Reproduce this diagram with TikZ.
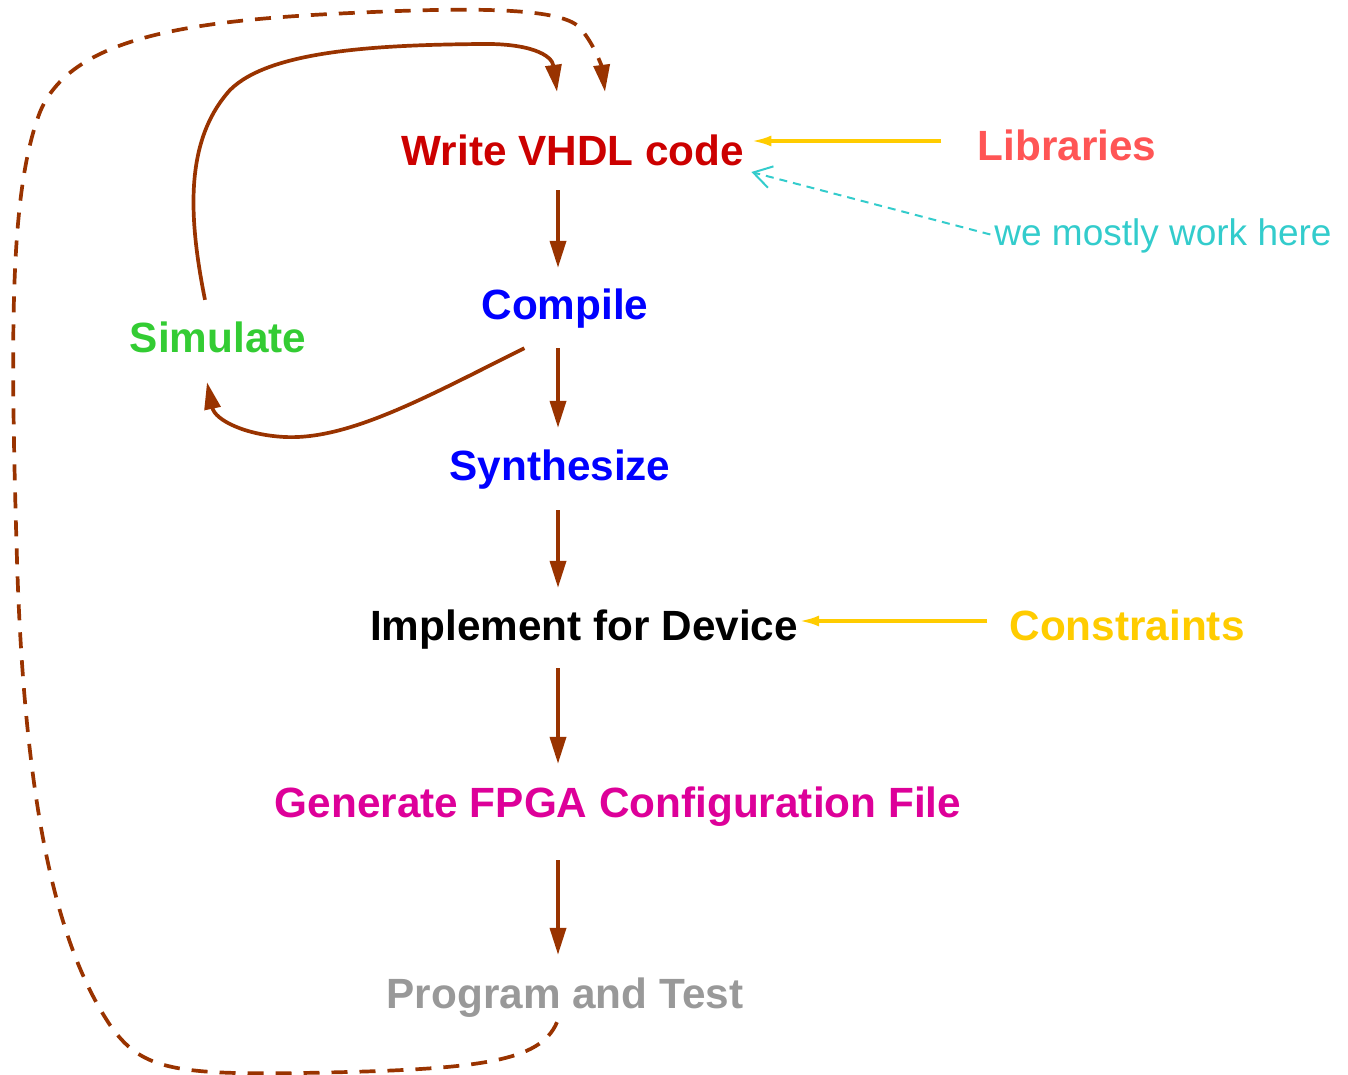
\documentclass[tikz,border=0pt]{standalone}
\usepackage{fontspec}
\setmainfont{Liberation Sans}
\usetikzlibrary{arrows.meta}
\definecolor{flow}{HTML}{993300}
\definecolor{vhdl}{HTML}{CC0000}
\definecolor{libc}{HTML}{FF5555}
\definecolor{note}{HTML}{33CCCC}
\definecolor{tool}{HTML}{0000FF}
\definecolor{simc}{HTML}{33CC33}
\definecolor{consc}{HTML}{FFCC00}
\definecolor{genc}{HTML}{DD0099}
\definecolor{testc}{HTML}{999999}
\begin{document}
\begin{tikzpicture}[x=1pt,y=-1pt,
  stage/.style={anchor=base,inner sep=0pt,text height=31pt,text depth=9pt,
    font=\fontsize{42.3}{50}\selectfont\bfseries},
  remark/.style={anchor=base,inner sep=0pt,text height=27pt,text depth=8pt,
    font=\fontsize{37}{44}\selectfont},
  flowarrow/.style={draw=flow,line width=3.7pt,-{Triangle[length=27pt,width=16pt]}},
  looparrow/.style={flowarrow,dash pattern=on 16pt off 12pt},
  feed/.style={draw=consc,line width=3.5pt,-{Latex[length=20pt,width=11pt]}},
  hint/.style={draw=note,line width=2pt,dash pattern=on 8pt off 6pt,
    -{Straight Barb[length=18pt,width=22pt]}}]
\useasboundingbox (0,0) rectangle (1348,1074);

% stages
\node[stage,text=vhdl]  (wr)  at (573,165)  {Write VHDL code};
\node[stage,text=tool]  (cp)  at (565,319)  {Compile};
\node[stage,text=simc]  (sim) at (218,352)  {Simulate};
\node[stage,text=tool]  (sy)  at (560,480)  {Synthesize};
\node[stage,text=black] (im)  at (584,640)  {Implement for Device};
\node[stage,text=genc]  (ge)  at (618,817)  {Generate FPGA Configuration File};
\node[stage,text=testc] (pt)  at (565,1008) {Program and Test};

% inputs
\node[stage,text=libc]  (lib) at (1067,160) {Libraries};
\node[stage,text=consc] (con) at (1127,640) {Constraints};
\node[remark,text=note] (we)  at (1163,245) {we mostly work here};

% main flow
\coordinate (spine) at (558,0);
\draw[flowarrow,shorten <=16pt,shorten >=20pt] (wr.south -| spine) -- (cp.north -| spine);
\draw[flowarrow,shorten <=20pt,shorten >=21pt] (cp.south -| spine) -- (sy.north -| spine);
\draw[flowarrow,shorten <=21pt,shorten >=21pt] (sy.south -| spine) -- (im.north -| spine);
\draw[flowarrow,shorten <=19pt,shorten >=22pt] (im.south -| spine) -- (ge.north -| spine);
\draw[flowarrow,shorten <=34pt,shorten >=22pt] (ge.south -| spine) -- (pt.north -| spine);

% inputs feeding the flow
\coordinate (ylib) at (0,141);
\coordinate (ycon) at (0,621);
\draw[feed,shorten <=36pt,shorten >=7pt] (lib.west |- ylib) -- (wr.east |- ylib);
\draw[feed,shorten <=22pt,shorten >=1pt] (con.west |- ycon) -- (im.east |- ycon);
\draw[hint,shorten <=4pt] (we.west) -- ([xshift=7pt,yshift=-18pt]wr.east);

% simulation loop
\draw[flowarrow] ([xshift=43pt,yshift=-20pt]cp.south west)
  .. controls (430,395) and (350,440) .. (285,437)
  .. controls (245,435) and (215,420) .. ([xshift=-11pt,yshift=-21pt]sim.south);
\draw[flowarrow] ([xshift=-13pt,yshift=21pt]sim.north)
  .. controls (188,215) and (185,140) .. (230,90)
  .. controls (270,50) and (380,45) .. (480,44)
  .. controls (530,43) and (552,55) .. ([xshift=-16pt,yshift=42pt]wr.north);

% test loop back to the code
\draw[looparrow] ([xshift=-8pt,yshift=-5pt]pt.south)
  .. controls (540,1062) and (480,1070) .. (300,1073)
  .. controls (170,1075) and (140,1068) .. (110,1025)
  .. controls (60,950) and (25,820) .. (17,560)
  .. controls (10,330) and (10,190) .. (40,112)
  .. controls (70,40) and (180,22) .. (330,14)
  .. controls (450,8) and (560,5) .. (580,28)
  .. controls (595,45) and (602,68) .. ([xshift=32pt,yshift=42pt]wr.north);
\end{tikzpicture}
\end{document}
